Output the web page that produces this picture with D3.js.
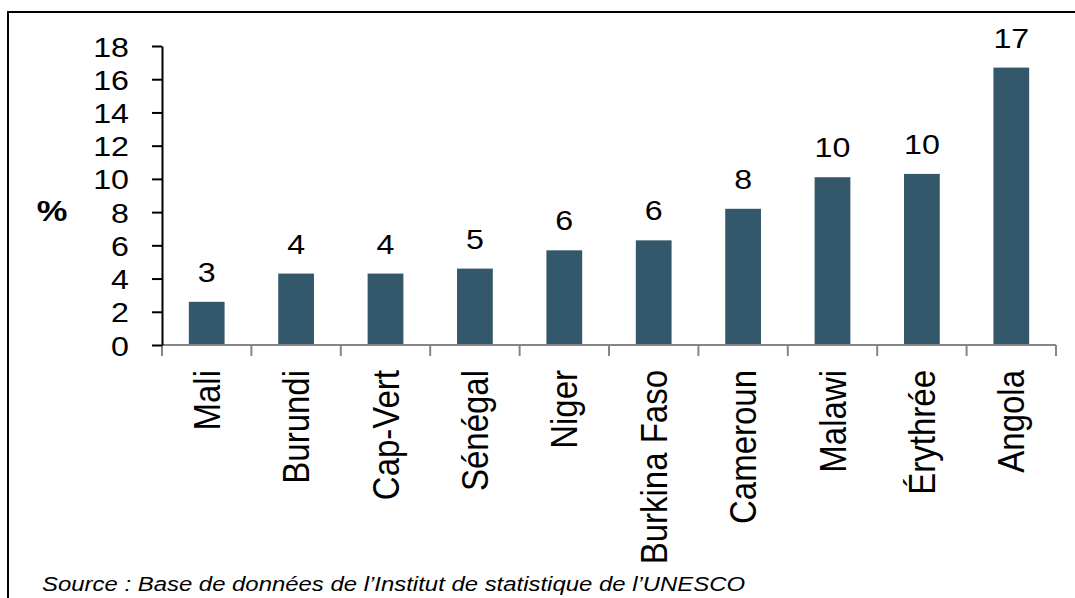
<!DOCTYPE html>
<html>
<head>
<meta charset="utf-8">
<script src="https://cdn.jsdelivr.net/npm/d3@7"></script>
<style>
  body { margin: 0; background: #fff; }
</style>
</head>
<body>
<svg id="chart" width="1075" height="598"></svg>
<script>
const countries = ['Mali', 'Burundi', 'Cap-Vert', 'Sénégal', 'Niger', 'Burkina Faso', 'Cameroun', 'Malawi', 'Érythrée', 'Angola'];
const values = [2.6, 4.3, 4.3, 4.6, 5.7, 6.3, 8.2, 10.1, 10.3, 16.7];
const yTicks = [0, 2, 4, 6, 8, 10, 12, 14, 16, 18];

const margin = {top: 46, left: 162, right: 19, bottom: 253};
const W = 1075, H = 598;
const width = W - margin.left - margin.right;
const height = H - margin.top - margin.bottom;
const FONT = '"Liberation Sans", Arial, sans-serif';
const SX = 1.15; // the original picture is a bit wider than tall

const svg = d3.select('#chart');

// outer frame (cut off on the right and bottom)
svg.append('rect')
  .attr('x', 8).attr('y', 12)
  .attr('width', 1200).attr('height', 800)
  .attr('fill', 'none').attr('stroke', '#000').attr('stroke-width', 2);

const g = svg.append('g').attr('transform', `translate(${margin.left},${margin.top})`);

const x = d3.scaleBand().domain(countries).range([0, width]).paddingInner(0.6).paddingOuter(0.3);
const y = d3.scaleLinear().domain([0, 18]).range([height, 0]);

// bars
g.selectAll('.bar').data(values).enter()
  .append('rect')
  .attr('x', (d, i) => x(countries[i]))
  .attr('y', d => y(d))
  .attr('width', x.bandwidth())
  .attr('height', d => height - y(d))
  .attr('fill', '#34586b');

// value labels
g.selectAll('.val').data(values).enter()
  .append('text')
  .attr('transform', (d, i) => `translate(${x(countries[i]) + x.bandwidth() / 2},${y(d) - 20}) scale(${SX},1)`)
  .attr('text-anchor', 'middle')
  .attr('font-family', FONT)
  .attr('font-size', 28)
  .attr('fill', '#000')
  .text(d => Math.round(d));

// x axis: grey line with ticks at category boundaries
const xAxis = g.append('g').attr('transform', `translate(0,${height})`);
xAxis.append('line')
  .attr('x1', 0).attr('x2', width)
  .attr('stroke', '#868686').attr('stroke-width', 2);
xAxis.selectAll('.xt').data(d3.range(countries.length + 1)).enter()
  .append('line')
  .attr('x1', i => i * width / countries.length)
  .attr('x2', i => i * width / countries.length)
  .attr('y1', 0).attr('y2', 11)
  .attr('stroke', '#868686').attr('stroke-width', 2);
xAxis.selectAll('.xl').data(countries).enter()
  .append('text')
  .attr('transform', d => `translate(${x(d) + x.bandwidth() / 2 + 13},${25}) scale(1.1,1) rotate(-90)`)
  .attr('text-anchor', 'end')
  .attr('font-family', FONT)
  .attr('font-size', 33)
  .attr('fill', '#000')
  .text(d => d);

// y axis
const yAxis = g.append('g')
  .call(d3.axisLeft(y).tickValues(yTicks).tickSize(10).tickSizeOuter(0));
yAxis.select('.domain').attr('stroke', '#000').attr('stroke-width', 2);
yAxis.selectAll('.tick line').attr('stroke', '#000').attr('stroke-width', 2);
yAxis.selectAll('.tick text')
  .attr('x', null).attr('dy', null)
  .attr('transform', `translate(-33,10) scale(${SX},1)`)
  .attr('font-size', 28)
  .attr('font-family', FONT)
  .attr('fill', '#000');

// y label
svg.append('text')
  .attr('transform', `translate(52,221) scale(${SX},1)`)
  .attr('text-anchor', 'middle')
  .attr('font-family', FONT)
  .attr('font-size', 30)
  .attr('font-weight', 'bold')
  .attr('fill', '#000')
  .text('%');

// source
svg.append('text')
  .attr('transform', `translate(42,591) scale(${SX},1)`)
  .attr('font-family', FONT)
  .attr('font-style', 'italic')
  .attr('font-size', 20.8)
  .attr('fill', '#000')
  .text('Source : Base de données de l’Institut de statistique de l’UNESCO');
</script>
</body>
</html>
